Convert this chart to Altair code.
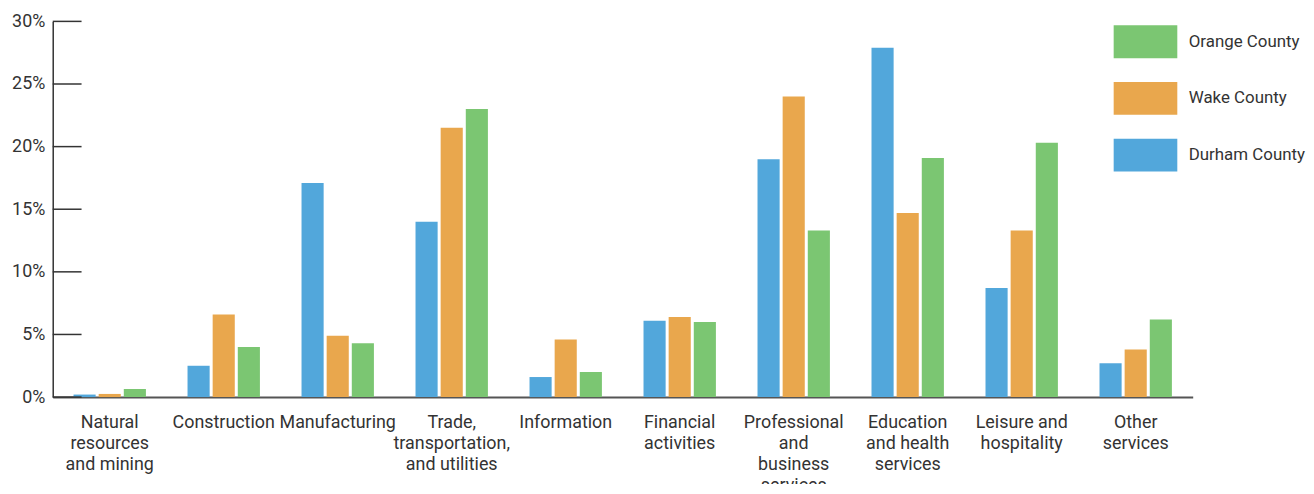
import altair as alt
import pandas as pd

categories = [
    "Natural|resources|and mining",
    "Construction",
    "Manufacturing",
    "Trade,|transportation,|and utilities",
    "Information",
    "Financial|activities",
    "Professional|and|business|services",
    "Education|and health|services",
    "Leisure and|hospitality",
    "Other|services",
]
counties = ["Durham County", "Wake County", "Orange County"]
durham = [0.2, 2.5, 17.1, 14.0, 1.6, 6.1, 19.0, 27.9, 8.7, 2.7]
wake = [0.25, 6.6, 4.9, 21.5, 4.6, 6.4, 24.0, 14.7, 13.3, 3.8]
orange = [0.65, 4.0, 4.3, 23.0, 2.0, 6.0, 13.3, 19.1, 20.3, 6.2]
colors = ["#52A7DB", "#E9A74D", "#7BC672"]
y_ticks = [0, 5, 10, 15, 20, 25, 30]

rows = []
for county, vals in zip(counties, [durham, wake, orange]):
    for c, v in zip(categories, vals):
        rows.append({"category": c, "county": county, "value": v})
df = pd.DataFrame(rows)

FONT = "Liberation Sans Narrow, Arial Narrow, Roboto, sans-serif"
TXT = "#333333"
FS = 18

y_scale = alt.Scale(domain=[0, 30], nice=False)

bars = alt.Chart(df).mark_bar().encode(
    x=alt.X(
        "category:N",
        sort=categories,
        scale=alt.Scale(paddingInner=0.365, paddingOuter=0.1825),
        axis=alt.Axis(
            title=None, labelAngle=0, labelExpr="split(datum.label, '|')",
            ticks=False, domainColor="#555555", domainWidth=2,
            labelFontSize=FS, labelLineHeight=21, labelPadding=17,
            labelColor=TXT, labelFont=FONT, labelLimit=0, labelBaseline="top",
        ),
    ),
    xOffset=alt.XOffset(
        "county:N", sort=counties,
        scale=alt.Scale(domain=counties, paddingInner=0.12, paddingOuter=0),
    ),
    y=alt.Y(
        "value:Q", scale=y_scale,
        axis=alt.Axis(
            title=None, values=y_ticks, grid=False, ticks=False,
            labelExpr="datum.value + '%'", domainColor=TXT, domainWidth=1.5,
            labelFontSize=FS, labelPadding=8, labelColor=TXT, labelFont=FONT,
        ),
    ),
    color=alt.Color(
        "county:N",
        scale=alt.Scale(domain=counties, range=colors),
        legend=alt.Legend(
            title=None, orient="none", legendX=1072, legendY=-7,
            values=list(reversed(counties)),
            symbolType="M-1.164,-0.6H1.164V0.6H-1.164Z", symbolSize=3025,
            symbolStrokeWidth=0, symbolOpacity=1,
            labelFontSize=17, labelFont=FONT, labelColor=TXT,
            rowPadding=13, labelOffset=16, padding=0,
        ),
    ),
)

tick_df = pd.DataFrame({"v": y_ticks})
ticks = alt.Chart(tick_df).mark_rule(color=TXT, strokeWidth=1.5).encode(
    y=alt.Y("v:Q", scale=y_scale),
    x=alt.value(0),
    x2=alt.value(29),
)

chart = (
    alt.layer(bars, ticks)
    .properties(
        width=1147, height=378,
        padding={"left": 45, "top": 12, "right": 114, "bottom": 86},
        autosize=alt.AutoSizeParams(type="none"),
    )
    .configure_view(stroke=None)
)

chart.save("out.html", embed_options={"renderer": "svg", "actions": False})
